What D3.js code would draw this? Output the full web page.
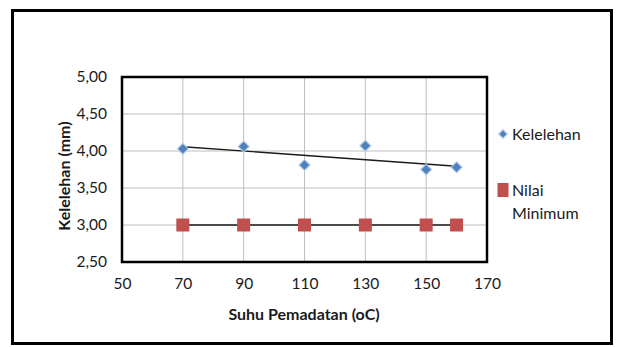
<!DOCTYPE html>
<html>
<head>
<meta charset="utf-8">
<script src="https://cdn.jsdelivr.net/npm/d3@7"></script>
<style>
  html, body { margin: 0; padding: 0; background: #fff; }
  svg { display: block; }
  text { font-family: Lato, "Open Sans", "Liberation Sans", sans-serif; fill: #1a1a1a; }
</style>
</head>
<body>
<svg id="chart" width="620" height="347"></svg>
<script>
// Suhu pemadatan (°C) and measured flow (kelelehan, mm)
const suhu = [70, 90, 110, 130, 150, 160];
const kelelehan = [4.03, 4.06, 3.81, 4.07, 3.75, 3.78];
const nilaiMinimum = [3.00, 3.00, 3.00, 3.00, 3.00, 3.00];
const xTicks = [50, 70, 90, 110, 130, 150, 170];
const yTicks = [2.5, 3.0, 3.5, 4.0, 4.5, 5.0];
const seriesNames = ["Kelelehan", "Nilai Minimum"];

const svg = d3.select("#chart");
const fmt = v => d3.format(".2f")(v).replace(".", ",");

// Outer chart border
svg.append("rect")
  .attr("x", 12.5).attr("y", 10.5).attr("width", 599).attr("height", 333)
  .attr("fill", "#fff").attr("stroke", "#000").attr("stroke-width", 3);

const plot = { left: 122, right: 487, top: 77, bottom: 262 };
const x = d3.scaleLinear().domain([50, 170]).range([plot.left, plot.right]);
const y = d3.scaleLinear().domain([2.5, 5]).range([plot.bottom, plot.top]);

// Gridlines
const grid = svg.append("g").attr("stroke", "#bfbfbf").attr("stroke-width", 1);
grid.selectAll("line.v").data(xTicks).join("line")
  .attr("x1", d => x(d)).attr("x2", d => x(d))
  .attr("y1", plot.top).attr("y2", plot.bottom);
grid.selectAll("line.h").data(yTicks).join("line")
  .attr("x1", plot.left).attr("x2", plot.right)
  .attr("y1", d => y(d)).attr("y2", d => y(d));

// Axes (labels only, the frame is drawn separately)
const xAxis = svg.append("g").attr("transform", `translate(0,${plot.bottom})`)
  .call(d3.axisBottom(x).tickValues(xTicks).tickSize(0).tickPadding(16));
const yAxis = svg.append("g").attr("transform", `translate(${plot.left},0)`)
  .call(d3.axisLeft(y).tickValues(yTicks).tickFormat(fmt).tickSize(0).tickPadding(15));
[xAxis, yAxis].forEach(a => {
  a.select(".domain").remove();
  a.selectAll("text").style("font-size", "15.5px").attr("fill", "#1a1a1a");
});

// Plot area frame
svg.append("rect")
  .attr("x", plot.left).attr("y", plot.top)
  .attr("width", plot.right - plot.left).attr("height", plot.bottom - plot.top)
  .attr("fill", "none").attr("stroke", "#000").attr("stroke-width", 2.5);

// Linear trend for each series (least squares)
function trend(xs, ys) {
  const mx = d3.mean(xs), my = d3.mean(ys);
  const sxy = d3.sum(xs, (v, i) => (v - mx) * (ys[i] - my));
  const sxx = d3.sum(xs, v => (v - mx) * (v - mx));
  const b = sxy / sxx, a = my - b * mx;
  const x0 = d3.min(xs), x1 = d3.max(xs);
  return [[x0, a + b * x0], [x1, a + b * x1]];
}
const line = d3.line().x(d => x(d[0])).y(d => y(d[1]));
[kelelehan, nilaiMinimum].forEach(vals => {
  svg.append("path").datum(trend(suhu, vals))
    .attr("d", line).attr("fill", "none")
    .attr("stroke", "#1a1a1a").attr("stroke-width", 1.4);
});

// Kelelehan markers (diamonds)
const diamond = d3.symbol().type(d3.symbolDiamond2).size(78);
svg.append("g").selectAll("path").data(suhu).join("path")
  .attr("d", diamond)
  .attr("transform", (d, i) => `translate(${x(d)},${y(kelelehan[i])})`)
  .attr("fill", "#4f81bd").attr("stroke", "#bcd3ee").attr("stroke-width", 1.5)
  .attr("stroke-opacity", 0.7);

// Nilai Minimum markers (squares)
const sq = 13;
svg.append("g").selectAll("rect").data(suhu).join("rect")
  .attr("x", d => x(d) - sq / 2)
  .attr("y", (d, i) => y(nilaiMinimum[i]) - sq / 2)
  .attr("width", sq).attr("height", sq)
  .attr("fill", "#c0504d");

// Axis titles
svg.append("text")
  .attr("x", 304).attr("y", 320).attr("text-anchor", "middle")
  .style("font-size", "16px").style("font-weight", "bold")
  .text("Suhu Pemadatan (oC)");
svg.append("text")
  .attr("transform", "translate(70,176) rotate(-90)")
  .attr("text-anchor", "middle")
  .style("font-size", "16px").style("font-weight", "bold")
  .text("Kelelehan (mm)");

// Legend
const lg = svg.append("g");
lg.append("path").attr("d", d3.symbol().type(d3.symbolDiamond2).size(50))
  .attr("transform", "translate(503,134)")
  .attr("fill", "#4f81bd").attr("stroke", "#bcd3ee").attr("stroke-width", 1.2);
lg.append("text").attr("x", 512).attr("y", 139.5)
  .style("font-size", "16px").text(seriesNames[0]);
lg.append("rect").attr("x", 497.5).attr("y", 183).attr("width", 11).attr("height", 14)
  .attr("fill", "#c0504d");
const t2 = lg.append("text").attr("x", 512).attr("y", 195.5).style("font-size", "16px");
t2.append("tspan").text("Nilai");
t2.append("tspan").attr("x", 512).attr("dy", 23).text("Minimum");
</script>
</body>
</html>
